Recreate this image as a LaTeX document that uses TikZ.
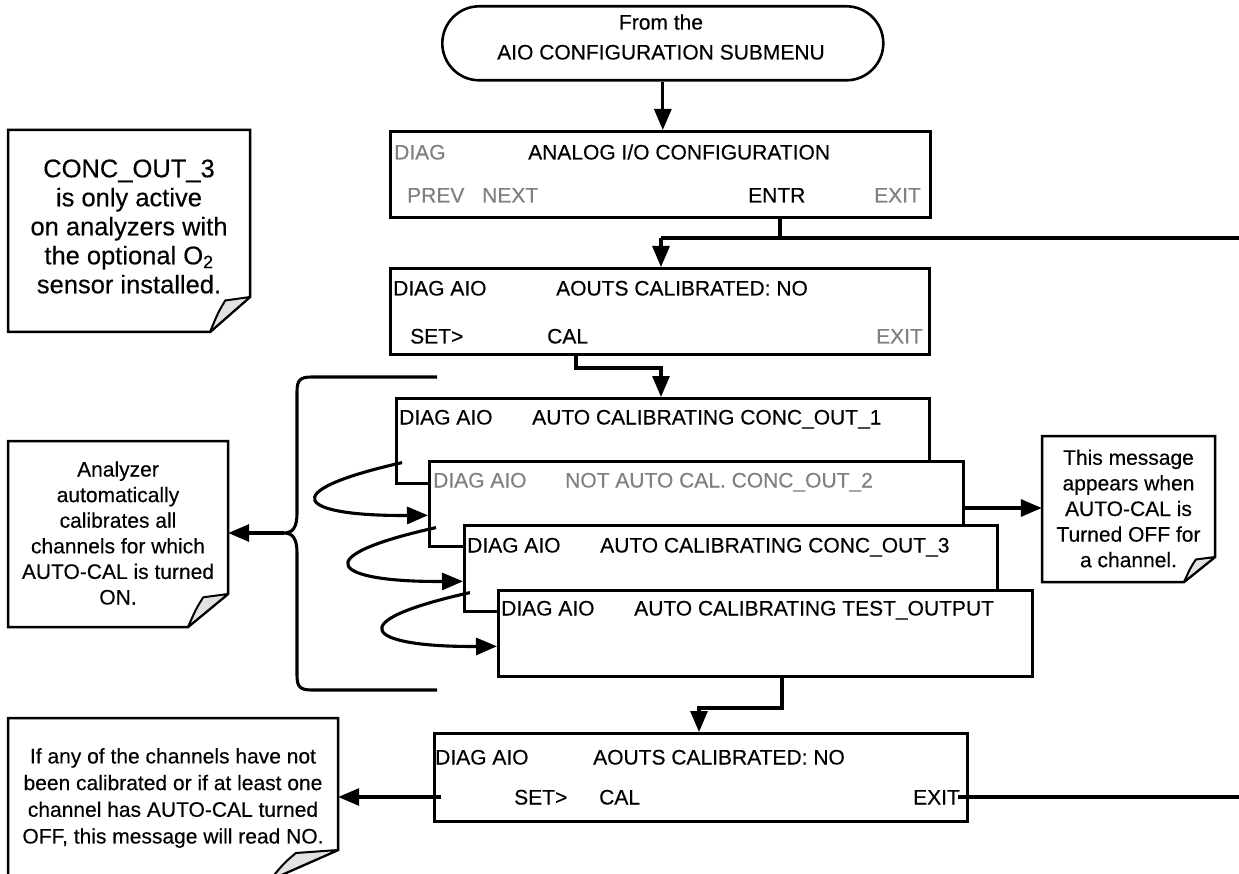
\documentclass[tikz,border=0pt]{standalone}
\usepackage{fontspec}
\setmainfont{Liberation Sans}[FakeBold=0.3]
\usetikzlibrary{arrows.meta,fit}
\definecolor{txtgray}{RGB}{128,128,128}
\definecolor{flapgray}{RGB}{226,226,226}
\newcommand\mynote[7]{%
  \draw[line width=2.5pt,fill=white,line join=miter] (#2,#3) -- (#4,#3) -- (#4,#5-#7) -- (#4-#6,#5) -- (#2,#5) -- cycle;
  \draw[line width=2pt,fill=flapgray,line join=round] (#4,#5-#7) -- (#4-0.62*#6,#5-0.9*#7) .. controls (#4-0.8*#6,#5-0.55*#7) .. (#4-#6,#5) -- cycle;
  \coordinate (#1nw) at (#2,#3);
  \coordinate (#1se) at (#4,#5);
  \node[inner sep=0pt,fit=(#1nw)(#1se)] (#1) {};
}
\tikzset{
  conline/.style={line width=3.1pt},
  conarrow/.style={line width=3.1pt,-{Triangle[length=21pt,width=17pt]}},
  scr/.style={draw,line width=2.6pt,fill=white,inner sep=0pt,anchor=north west},
  txt/.style={inner sep=0pt,font=\fontsize{21}{25}\selectfont,anchor=base west},
  txtr/.style={txt,anchor=base east},
  txtc/.style={txt,anchor=base},
  gr/.style={text=txtgray},
  notetxt/.style={inner sep=0pt,align=center,font=\fontsize{21}{25.6}\selectfont}
}
\begin{document}
\begin{tikzpicture}[x=1pt,y=-1pt]
\useasboundingbox (0,0) rectangle (1239,874);

% start terminator
\node[draw,line width=2.6pt,rounded corners=37pt,minimum width=441pt,minimum height=74pt,anchor=north west,inner sep=0pt] (start) at (441,5) {};
\node[txtc] (st1) at (661,29.5) {From the};
\node[txtc] (st2) at (661,59.5) {AIO CONFIGURATION SUBMENU};

% box 1
\node[scr,minimum width=540pt,minimum height=86pt] (b1) at (389,130) {};
\node[txt,gr] (b1a) at (394,159.5) {DIAG};
\node[txt] (b1b) at (528,159.5) {ANALOG I/O CONFIGURATION};
\node[txt,gr] (b1c) at (407,202.5) {PREV};
\node[txt,gr] (b1d) at (482,202.5) {NEXT};
\node[txt] (b1e) at (748,202.5) {ENTR};
\node[txtr,gr] (b1f) at (921,202.5) {EXIT};

% box 2
\node[scr,minimum width=539pt,minimum height=86pt] (b2) at (389,267) {};
\node[txt] (b2a) at (393,295.5) {DIAG AIO};
\node[txt] (b2b) at (556,295.5) {AOUTS CALIBRATED: NO};
\node[txt] (b2c) at (410,343.5) {SET>};
\node[txt] (b2d) at (547,343.5) {CAL};
\node[txtr,gr] (b2e) at (923,343.5) {EXIT};

% stacked boxes
\node[scr,minimum width=533pt,minimum height=85pt] (b3) at (395,397) {};
\node[txt] (b3a) at (399,424.5) {DIAG AIO};
\node[txt] (b3b) at (532,424.5) {AUTO CALIBRATING CONC\_OUT\_1};
\node[scr,minimum width=534pt,minimum height=85pt] (b4) at (428,460) {};
\node[txt,gr] (b4a) at (433,487.5) {DIAG AIO};
\node[txt,gr] (b4b) at (565,487.5) {NOT AUTO CAL. CONC\_OUT\_2};
\node[scr,minimum width=533pt,minimum height=86pt] (b5) at (463,524) {};
\node[txt] (b5a) at (467,552.5) {DIAG AIO};
\node[txt] (b5b) at (600,552.5) {AUTO CALIBRATING CONC\_OUT\_3};
\node[scr,minimum width=534pt,minimum height=86pt] (b6) at (497,589) {};
\node[txt] (b6a) at (501,615.5) {DIAG AIO};
\node[txt] (b6b) at (634,615.5) {AUTO CALIBRATING TEST\_OUTPUT};

% box 7
\node[scr,minimum width=533pt,minimum height=88pt] (b7) at (433,732) {};
\node[txt] (b7a) at (435,764.5) {DIAG AIO};
\node[txt] (b7b) at (593,764.5) {AOUTS CALIBRATED: NO};
\node[txt] (b7c) at (514,804.5) {SET>};
\node[txt] (b7d) at (599,804.5) {CAL};
\node[txtr] (b7e) at (960,804.5) {EXIT};

% notes
\mynote{n1}{8}{130}{250}{332}{40}{35}
\node[notetxt,font=\fontsize{25.5}{29}\selectfont] (n1t) at (129,226.5) {CONC\_OUT\_3\\is only active\\on analyzers with\\the optional O\textsubscript{2}\\sensor installed.};
\mynote{n2}{8}{441}{228}{627}{40}{33}
\node[notetxt] (n2t) at (118,533) {Analyzer\\automatically\\calibrates all\\channels for which\\AUTO-CAL is turned\\ON.};
\mynote{n4}{1042}{436}{1215}{582}{31}{25}
\node[notetxt] (n4t) at (1128.5,508.5) {This message\\appears when\\AUTO-CAL is\\Turned OFF for\\a channel.};
\mynote{n3}{8}{718}{338}{880}{68}{30}
\node[notetxt,font=\fontsize{21}{26.7}\selectfont] (n3t) at (173,798) {If any of the channels have not\\been calibrated or if at least one\\channel has AUTO-CAL turned\\OFF, this message will read NO.};

% connectors
\draw[conarrow] (start.south) -- (start.south |- b1.north);
\coordinate (j1) at (780,238);
\coordinate (c2) at (661,238);
\coordinate (offR1) at (1239,238);
\draw[conline] (b1.south -| j1) -- (j1);
\draw[conline] (offR1) -- (c2);
\draw[conarrow] (c2) -- (c2 |- b2.north);

\coordinate (k1) at (576,368);
\coordinate (k1b) at (661,368);
\draw[conarrow] (b2.south -| k1) -- (k1) -- (k1b) -- (k1b |- b3.north);

\coordinate (k2) at (782,708);
\coordinate (k3) at (699,708);
\draw[conarrow] (b6.south -| k2) -- (k2) -- (k3) -- (k3 |- b7.north);

% loops
\draw[conarrow] ([xshift=7pt,yshift=22pt]b3.south west) .. controls +(-132,30) and +(-128,1) .. ([yshift=-11.5pt]b4.west);
\draw[conarrow] ([xshift=8pt,yshift=20pt]b4.south west) .. controls +(-135,30) and +(-128,1) .. ([yshift=-13pt]b5.west);
\draw[conarrow] ([xshift=7pt,yshift=20pt]b5.south west) .. controls +(-135,30) and +(-128,1) .. ([yshift=-13pt]b6.west);

% brace
\coordinate (brtip) at (284,533);
\draw[conline] (437,377) -- (312,377) .. controls (300,377) and (297,380) .. (297,392) -- (297,513)
  .. controls (297,527) and (293,533) .. (brtip)
  .. controls (293,533) and (297,539) .. (297,553) -- (297,675)
  .. controls (297,687) and (300,690) .. (312,690) -- (437,690);
\draw[conarrow] (brtip) -- (n2.east |- brtip);

% note4 arrow
\coordinate (a4) at (962,508);
\draw[conarrow] (a4) -- (n4.west |- a4);

% box7 arrows
\coordinate (a7) at (441,797);
\draw[conarrow] (a7) -- (n3.east |- a7);
\coordinate (e7) at (958,797);
\coordinate (offR2) at (1239,797);
\draw[conline] (e7) -- (offR2);
\end{tikzpicture}
\end{document}
